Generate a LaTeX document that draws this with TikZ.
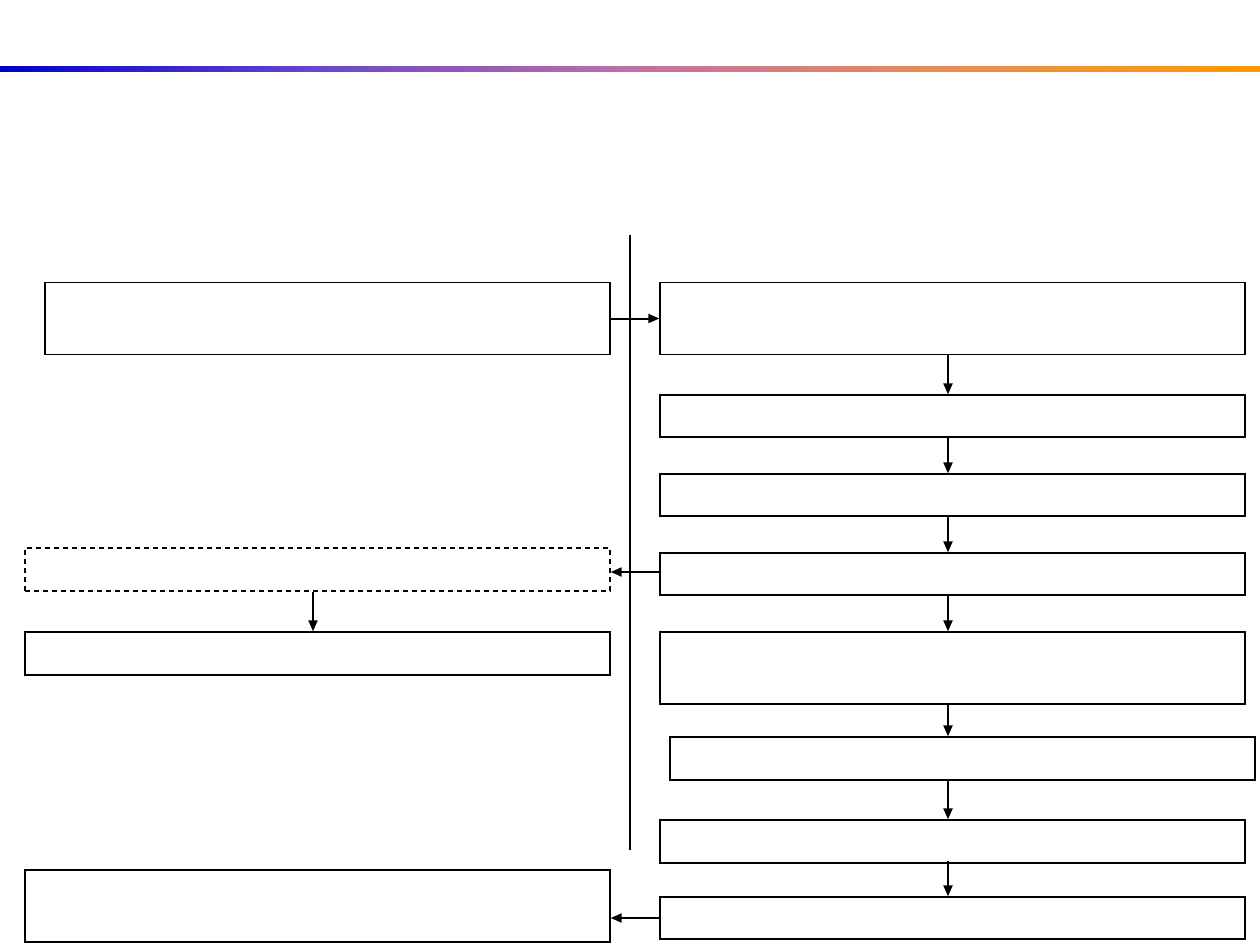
\documentclass[tikz,border=0pt]{standalone}
\usetikzlibrary{arrows.meta,calc}
\definecolor{barblue}{RGB}{0,0,200}
\definecolor{barq1}{RGB}{105,70,205}
\definecolor{barmid}{RGB}{192,112,165}
\definecolor{barq3}{RGB}{236,140,85}
\definecolor{barorange}{RGB}{255,153,0}
\pgfdeclarehorizontalshading{barshade}{100bp}{color(0bp)=(barblue); color(25bp)=(barblue); color(37.5bp)=(barq1); color(50bp)=(barmid); color(62.5bp)=(barq3); color(75bp)=(barorange); color(100bp)=(barorange)}
\tikzset{
  box/.style={draw=black, line width=1.3pt, fill=white, inner sep=0pt, minimum width=585pt, minimum height=42pt},
  tall/.style={minimum height=72pt},
  dbox/.style={box, dashed, dash pattern=on 5pt off 4pt},
  conn/.style={line width=2pt, -{Triangle[length=11pt,width=9pt]}}
}
\begin{document}
\begin{tikzpicture}[x=1pt,y=-1pt]
\useasboundingbox (0,0) rectangle (1260,945);
\fill[white] (0,0) rectangle (1260,945);
\shade[shading=barshade] (0,66) rectangle (1260,71);
\draw[line width=1.2pt] (630,235) -- (630,850);

\node[box, tall, minimum width=565pt] (L1) at (327.5,318.5) {};
\node[box, tall] (R1) at (952.5,318.5) {};
\node[box] (R2) at (952.5,416) {};
\node[box] (R3) at (952.5,495) {};
\node[box] (R4) at (952.5,574) {};
\node[dbox, minimum height=43pt] (LD) at (317.5,569.5) {};
\node[box, minimum height=43pt] (L2) at (317.5,653.5) {};
\node[box, tall] (R5) at (952.5,668) {};
\node[box, minimum height=43pt] (R6) at (962.5,758.5) {};
\node[box, minimum height=43pt] (R7) at (952.5,841.5) {};
\node[box] (R8) at (952.5,918) {};
\node[box, tall] (L3) at (317.5,906) {};

\draw[conn] (L1.east) -- (R1.west);
\draw[conn] ($(R1.south)+(-4.5,0)$) -- ($(R2.north)+(-4.5,0)$);
\draw[conn] ($(R2.south)+(-4.5,0)$) -- ($(R3.north)+(-4.5,0)$);
\draw[conn] ($(R3.south)+(-4.5,0)$) -- ($(R4.north)+(-4.5,0)$);
\draw[conn] (R4.west |- 0,572) -- (LD.east |- 0,572);
\draw[conn] (LD.south -| 313,0) -- (L2.north -| 313,0);
\draw[conn] ($(R4.south)+(-4.5,0)$) -- ($(R5.north)+(-4.5,0)$);
\draw[conn] ($(R5.south)+(-4.5,0)$) -- (R6.north -| 948,0);
\draw[conn] (R6.south -| 948,0) -- (R7.north -| 948,0);
\draw[conn] ($(R7.south)+(-4.5,-3)$) -- ($(R8.north)+(-4.5,0)$);
\draw[conn] (R8.west) -- (L3.east |- R8.west);
\end{tikzpicture}
\end{document}
